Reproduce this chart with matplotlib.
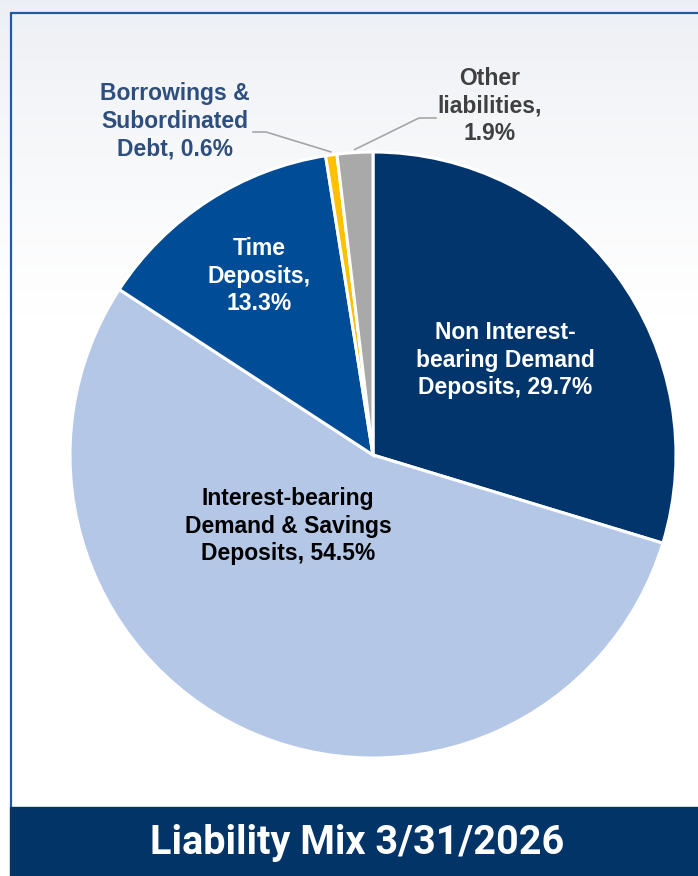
import numpy as np
import matplotlib.pyplot as plt
from matplotlib.patches import Rectangle

# Liability mix shares (percent), drawn clockwise from 12 o'clock
categories = [
    "Non Interest-bearing Demand Deposits",
    "Interest-bearing Demand & Savings Deposits",
    "Time Deposits",
    "Borrowings & Subordinated Debt",
    "Other liabilities",
]
shares = [29.7, 54.5, 13.3, 0.6, 1.9]
label_text = [
    "Non Interest-\nbearing Demand\nDeposits, {}%",
    "Interest-bearing\nDemand & Savings\nDeposits, {}%",
    "Time\nDeposits,\n{}%",
    "Borrowings &\nSubordinated\nDebt, {}%",
    "Other\nliabilities,\n{}%",
]
slice_colors = ["#02356b", "#b4c7e7", "#014c97", "#ffc000", "#a9a9a9"]
label_colors = ["white", "black", "white", "#2e4e7e", "#404040"]
title = "Liability Mix 3/31/2026"

W, H = 698, 876
fig = plt.figure(figsize=(W / 100, H / 100), dpi=100)

# full-figure canvas in pixel units (y grows downward)
bg = fig.add_axes([0, 0, 1, 1], zorder=0)
bg.set_xlim(0, W)
bg.set_ylim(H, 0)
bg.axis("off")

# soft grey haze at the top fading to white
rows = np.linspace(0, 1, H)
fade = np.clip(rows / 0.36, 0, 1) ** 0.8
top = np.array([0.925, 0.936, 0.955])
grad = top[None, :] * (1 - fade[:, None]) + fade[:, None]
bg.imshow(grad[:, None, :], extent=(0, W, H, 0), aspect="auto", zorder=0)

# frame and title banner
border = "#1f5ba8"
bg.plot([11, 11], [12, 808], color=border, lw=1.6, zorder=1, solid_capstyle="butt")
bg.plot([11, W], [12.5, 12.5], color=border, lw=1.6, zorder=1, solid_capstyle="butt")
bg.add_patch(Rectangle((10, 807), W - 10, H - 807, color="#023467", zorder=2))
bg.text(357, 843, title, color="white", fontsize=28.5, fontweight="bold",
        family="Roboto", ha="center", va="center", zorder=3)

# pie
cx, cy, R = 373, 455, 303
ax = fig.add_axes([(cx - R) / W, (H - cy - R) / H, 2 * R / W, 2 * R / H], zorder=1)
wedges, _ = ax.pie(shares, colors=slice_colors, startangle=90, counterclock=False,
                   wedgeprops=dict(edgecolor="white", linewidth=2.2))
ax.set_xlim(-1, 1)
ax.set_ylim(-1, 1)
ax.axis("off")

# overlay for labels and leader lines, same pixel units as the canvas
top_ax = fig.add_axes([0, 0, 1, 1], zorder=2)
top_ax.set_xlim(0, W)
top_ax.set_ylim(H, 0)
top_ax.axis("off")
top_ax.patch.set_alpha(0)

label_pos = [(505, 360), (288, 526), (259, 276), (175, 121), (490, 106)]
for fmt, v, col, (lx, ly) in zip(label_text, shares, label_colors, label_pos):
    top_ax.text(lx, ly, fmt.format(v), color=col, fontsize=16.5, fontweight="bold",
                family="Liberation Sans", ha="center", va="center", linespacing=1.27)

# leader lines for the two thin slices
fig.canvas.draw()
to_px = top_ax.transData.inverted()
leaders = {3: [(253, 132), (266, 132)], 4: [(436, 118), (419, 118)]}
for i, pts in leaders.items():
    w = wedges[i]
    mid = np.deg2rad((w.theta1 + w.theta2) / 2)
    tip = to_px.transform(ax.transData.transform((np.cos(mid) * 1.01, np.sin(mid) * 1.01)))
    xs = [p[0] for p in pts] + [tip[0]]
    ys = [p[1] for p in pts] + [tip[1]]
    top_ax.plot(xs, ys, color="#a6a6a6", lw=1.2)

fig.savefig("out.png", dpi=100)
